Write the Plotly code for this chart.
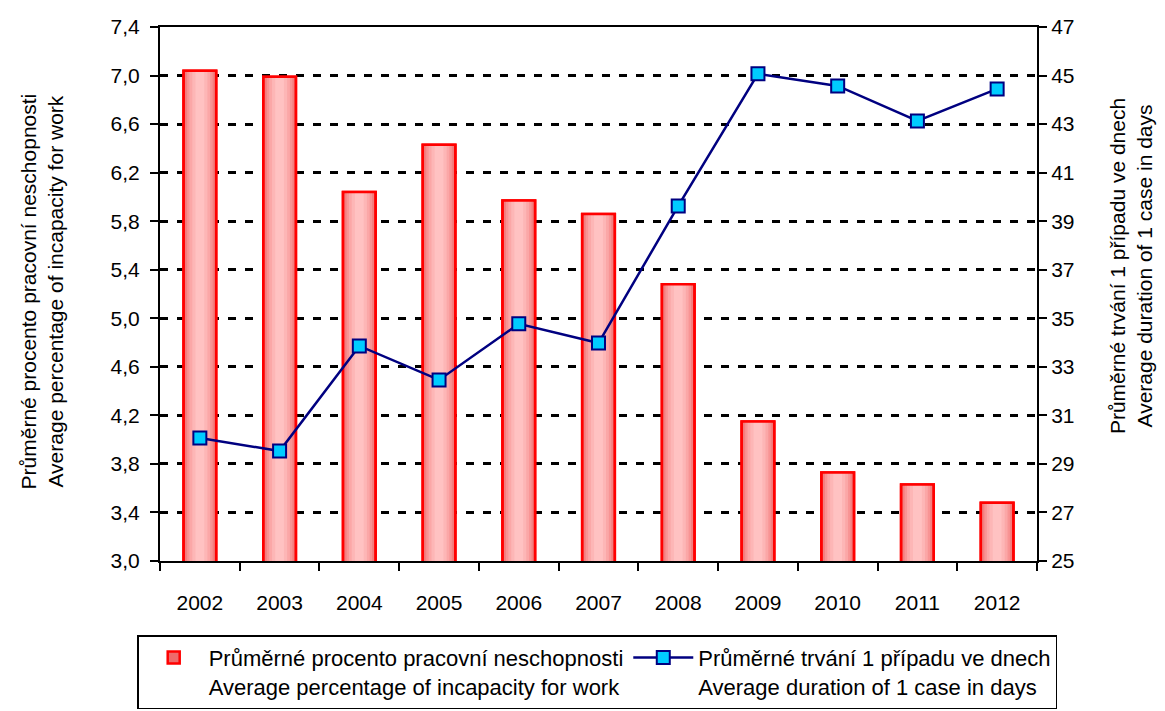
import plotly.graph_objects as go

# data
years = ["2002", "2003", "2004", "2005", "2006", "2007", "2008", "2009", "2010", "2011", "2012"]
pct_incapacity = [7.04, 6.99, 6.04, 6.43, 5.97, 5.86, 5.28, 4.15, 3.73, 3.63, 3.48]
avg_duration = [30.07, 29.53, 33.86, 32.46, 34.77, 33.98, 39.63, 45.07, 44.57, 43.13, 44.45]

left_ticks = [3.0, 3.4, 3.8, 4.2, 4.6, 5.0, 5.4, 5.8, 6.2, 6.6, 7.0, 7.4]
right_ticks = [25, 27, 29, 31, 33, 35, 37, 39, 41, 43, 45, 47]

bar_name = "Průměrné procento pracovní neschopnosti<br>Average percentage of incapacity for work"
line_name = "Průměrné trvání 1 případu ve dnech<br>Average duration of 1 case in days"

FONT = "Liberation Sans, Arial, sans-serif"

# fake the cylinder gradient of the bars with narrower, lighter layers
bar_layers = [
    (0.41, "#ee6a6a"),
    (0.37, "#f47f7f"),
    (0.32, "#f89494"),
    (0.26, "#fba7a7"),
    (0.19, "#fdb6b6"),
    (0.11, "#ffc2c2"),
]

fig = go.Figure()

for i, (w, c) in enumerate(bar_layers):
    fig.add_trace(go.Bar(
        x=years, y=pct_incapacity,
        width=w,
        name=bar_name,
        showlegend=(i == 0),
        marker=dict(color=c, line=dict(color="#ff0000", width=2.5 if i == 0 else 0)),
        hoverinfo="skip" if i else None,
    ))

# outline on top of the gradient layers
fig.add_trace(go.Bar(
    x=years, y=pct_incapacity,
    width=bar_layers[0][0],
    showlegend=False,
    hoverinfo="skip",
    marker=dict(color="rgba(0,0,0,0)", line=dict(color="#ff0000", width=2.5)),
))

fig.add_trace(go.Scatter(
    x=years, y=avg_duration,
    yaxis="y2",
    mode="lines+markers",
    name=line_name,
    line=dict(color="#000080", width=2.5),
    marker=dict(symbol="square", size=13, color="#00ccff",
                line=dict(color="#000080", width=2)),
))

# page body adds an 8px offset, margins below account for it
fig.update_layout(
    width=1165, height=711,
    margin=dict(l=152, r=136, t=19, b=158, autoexpand=False),
    paper_bgcolor="white", plot_bgcolor="white",
    barmode="overlay",
    separators=", ",
    font=dict(family=FONT, size=21, color="black"),
    xaxis=dict(
        type="category",
        range=[-0.5, 10.5],
        tickson="boundaries",
        ticks="outside", ticklen=8, tickwidth=2, tickcolor="black",
        showline=True, linecolor="black", linewidth=2, mirror=True,
        showgrid=False,
        ticklabelstandoff=22,
        tickfont=dict(size=21),
    ),
    yaxis=dict(
        range=[3.0, 7.4],
        tickvals=left_ticks, tickformat=".1f",
        ticks="outside", ticklen=8, tickwidth=2, tickcolor="black",
        ticklabelstandoff=6,
        showline=True, linecolor="black", linewidth=2,
        showgrid=True, gridcolor="black", gridwidth=2.5, griddash="8px,9px",
        zeroline=False,
        tickfont=dict(size=21),
    ),
    yaxis2=dict(
        range=[25, 47],
        tickvals=right_ticks,
        overlaying="y", side="right",
        ticks="outside", ticklen=8, tickwidth=2, tickcolor="black",
        showline=True, linecolor="black", linewidth=2,
        showgrid=False, zeroline=False,
        tickfont=dict(size=21),
    ),
    legend=dict(
        orientation="h",
        x=-0.026, xanchor="left",
        y=-0.139, yanchor="top",
        bordercolor="black", borderwidth=1.5,
        bgcolor="white",
        font=dict(size=22),
        valign="top",
        itemwidth=60,
        traceorder="normal",
    ),
    annotations=[
        dict(text="Průměrné procento pracovní neschopnosti<br>Average percentage of incapacity for work",
             xref="paper", yref="paper", x=-0.135, y=0.504,
             xanchor="center", yanchor="middle", textangle=-90,
             showarrow=False, font=dict(size=21)),
        dict(text="Průměrné trvání 1 případu ve dnech<br>Average duration of 1 case in days",
             xref="paper", yref="paper", x=1.107, y=0.552,
             xanchor="center", yanchor="middle", textangle=-90,
             showarrow=False, font=dict(size=21)),
    ],
)

fig.write_html("out.html")
